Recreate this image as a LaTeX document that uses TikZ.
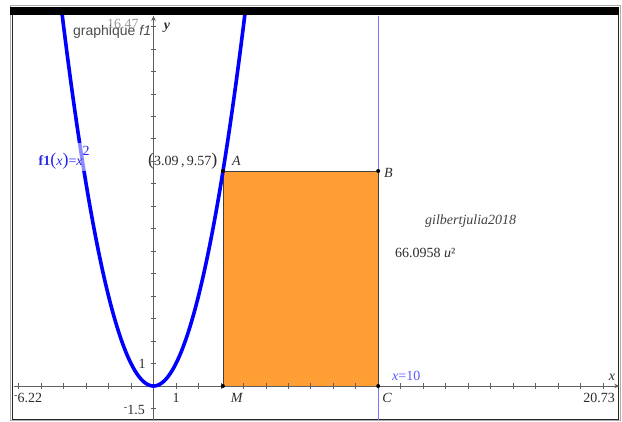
\documentclass[tikz,border=0pt]{standalone}
\usepackage{fontspec}
\setmainfont{Liberation Serif}
\newfontfamily\sansf{Liberation Sans}
\usetikzlibrary{arrows.meta}
\definecolor{curveblue}{RGB}{0,0,255}
\definecolor{lineblue}{RGB}{120,120,255}
\definecolor{labblue}{RGB}{40,40,235}
\definecolor{xtenblue}{RGB}{90,90,255}
\definecolor{rectorange}{RGB}{255,158,52}
\definecolor{axisgray}{RGB}{95,95,95}
\definecolor{txt}{RGB}{45,45,45}
\tikzset{
  lab/.style={font=\fontsize{14}{14}\selectfont, inner sep=0pt, text=txt},
  axisline/.style={axisgray, line width=0.9pt, -{Stealth[length=5pt,width=4.5pt]}},
  tickmark/.style={axisgray, line width=0.7pt},
  curve/.style={curveblue, line width=3.6pt},
  rectedge/.style={black!75, line width=0.7pt},
  dot/.style={fill=black}
}
\newcommand{\bp}[1]{{\fontsize{18}{18}\selectfont #1}}
\newcommand{\rminus}{\raisebox{3.5pt}{\fontsize{10}{10}\selectfont -}}
\begin{document}
\begin{tikzpicture}[x=1pt,y=-1pt]
\useasboundingbox (0,0) rectangle (622,421);
\fill[white] (0,0) rectangle (622,421);
% frame
\draw[gray!65, line width=0.9pt] (10,5.5) rectangle (620.5,420.2);
\fill[black] (10.4,7) rectangle (619,15);
\draw[black!85, line width=1.2pt] (12.6,15) -- (12.6,419.4) -- (618.4,419.4) -- (618.4,15);

\begin{scope}[shift={(153.5pt,-386pt)}, x=22.47pt, y=22.47pt]
  \coordinate (M) at (3.09,0);
  \coordinate (A) at (3.09,9.57);
  \coordinate (B) at (10,9.57);
  \coordinate (C) at (10,0);
  \coordinate (xl) at (-6.22,0);
  \coordinate (xr) at (20.73,0);
  \coordinate (yb) at (0,-1.5);
  \coordinate (yt) at (0,16.47);
  \coordinate (lb) at (10,-1.5);
  \coordinate (lt) at (10,16.47);
  \fill[rectorange] (M) rectangle (B);
  \draw[lineblue, line width=0.8pt] (lb) -- (lt);
  \foreach \i in {-6,...,-1,1,2,...,20}
    \draw[tickmark] (\i,0) ++(0pt,-2.6pt) -- ++(0pt,5.2pt);
  \foreach \j in {-1,1,2,...,16}
    \draw[tickmark] (0,\j) ++(-2.6pt,0pt) -- ++(5.2pt,0pt);
  \draw[axisline] (xl) -- (xr);
  \draw[axisline] (yb) -- (yt);
  \draw[rectedge] (M) -- (A) -- (B) -- (C);
  \begin{scope}
    \clip (-6.22,-1.5) rectangle (20.73,16.47);
    \draw[curve] plot[domain=-4.2:4.2, samples=120] (\x,{\x*\x});
  \end{scope}
  \fill[dot] (A) circle[radius=2pt];
  \fill[dot] (B) circle[radius=2pt];
  \fill[dot] (M) circle[radius=2pt];
  \fill[dot] (C) circle[radius=2pt];
\end{scope}

% labels
\node[lab, anchor=base west, text=gray!80] (ytop) at (107,28) {16.47};
\node[lab, anchor=base west, font=\sansf\fontsize{14}{14}\selectfont, text=black!70] (graph) at (73,35) {graphique \textit{f1}};
\node[lab, anchor=base] (ylab) at (167,29) {\textbf{\textit{y}}};
\node[lab, anchor=base west, text=labblue, fill=white, fill opacity=0.55, text opacity=1, inner sep=2.5pt] (flab) at (36,165)
  {\textbf{f1}\bp{(}\textit{x}\bp{)}=\textit{x}\raisebox{10pt}{2}};
\node[lab, anchor=base west] (coord) at (148,165) {\bp{(}3.09\,,\,9.57\bp{)}};
\node[lab, anchor=base west] (lA) at (232,165) {\textit{A}};
\node[lab, anchor=base west] (lB) at (384,177) {\textit{B}};
\node[lab, anchor=base west, text=black!75] (sig) at (425,224) {\textit{gilbertjulia2018}};
\node[lab, anchor=base west] (area) at (395,257) {66.0958 \textit{u}²};
\node[lab, anchor=base west, text=xtenblue] (xten) at (392,380) {\textit{x}=10};
\node[lab, anchor=base] (xlab) at (612,380) {\textit{x}};
\node[lab, anchor=base] (one1) at (142,368) {1};
\node[lab, anchor=base] (one2) at (176,402) {1};
\node[lab, anchor=base east] (ymin) at (145,414) {\rminus1.5};
\node[lab, anchor=base west] (xmin) at (14,402) {\rminus6.22};
\node[lab, anchor=base east] (xmax) at (615,402) {20.73};
\node[lab, anchor=base] (lM) at (237,402) {\textit{M}};
\node[lab, anchor=base] (lC) at (387,402) {\textit{C}};
\end{tikzpicture}
\end{document}
